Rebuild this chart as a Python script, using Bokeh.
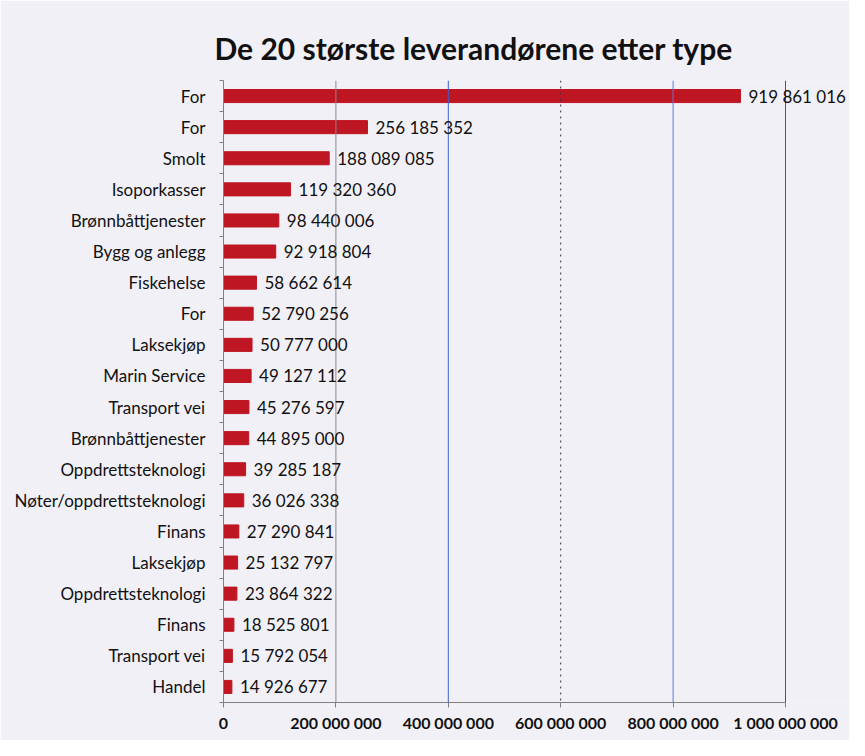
from bokeh.plotting import figure
from bokeh.models import ColumnDataSource, Range1d, FixedTicker, Span, LabelSet
from bokeh.core.properties import value
from bokeh.embed import file_html
from bokeh.resources import INLINE

categories = ["For", "For", "Smolt", "Isoporkasser", "Brønnbåttjenester", "Bygg og anlegg",
              "Fiskehelse", "For", "Laksekjøp", "Marin Service", "Transport vei",
              "Brønnbåttjenester", "Oppdrettsteknologi", "Nøter/oppdrettsteknologi", "Finans",
              "Laksekjøp", "Oppdrettsteknologi", "Finans", "Transport vei", "Handel"]
values = [919861016, 256185352, 188089085, 119320360, 98440006, 92918804,
          58662614, 52790256, 50777000, 49127112, 45276597,
          44895000, 39285187, 36026338, 27290841,
          25132797, 23864322, 18525801, 15792054, 14926677]
x_ticks = [0, 200000000, 400000000, 600000000, 800000000, 1000000000]
x_tick_labels = ["0", "200 000 000", "400 000 000", "600 000 000", "800 000 000", "1 000 000 000"]

def fmt(v):
    return f"{v:,}".replace(",", " ")

pos = list(range(len(categories)))
src = ColumnDataSource(dict(y=pos, v=values, lbl=[fmt(v) for v in values]))

AXIS_MAX = x_ticks[-1]
FRAME_LEFT = 223
FIG_W = 849
FIG_H = 740
PX_PER_UNIT = 562 / AXIS_MAX
x_end = (FIG_W - FRAME_LEFT) / PX_PER_UNIT

BG = "#f2f0f7"
p = figure(width=FIG_W, height=FIG_H, output_backend="svg", toolbar_location=None,
           x_range=Range1d(0, x_end), y_range=Range1d(len(categories) - 0.5, -0.5),
           min_border_left=FRAME_LEFT, min_border_right=0, min_border_top=80, min_border_bottom=38,
           background_fill_color=BG, border_fill_color=BG, outline_line_color=None,
           title="De 20 største leverandørene etter type")

p.title.text_font = "Lato"
p.title.text_font_style = "bold"
p.title.text_font_size = "30px"
p.title.align = "left"
p.title.offset = -9
p.title.standoff = 29
p.title.text_color = "#111111"

p.xgrid.visible = False
p.ygrid.visible = False

grid_colors = ["#8a8a8a", "#3f5fd0", "#333344", "#5a7ae0", "#555555"]
grid_dash = ["solid", "solid", "dotted", "solid", "solid"]
for t, c, d in zip(x_ticks[1:], grid_colors, grid_dash):
    p.add_layout(Span(location=t, dimension="height", line_color=c, line_width=1, line_dash=d))

p.hbar(y="y", left=0, right="v", height=0.42, source=src, fill_color="#be1622",
       line_color="#be1622")

labels = LabelSet(x="v", y="y", text="lbl", source=src, x_offset=8,
                  text_baseline="middle", text_font=value("Lato"), text_font_size="17px",
                  text_color="#111111")
p.add_layout(labels)

# x axis
p.xaxis.bounds = (0, AXIS_MAX)
p.xaxis.ticker = FixedTicker(ticks=x_ticks)
p.xaxis.major_label_overrides = {t: l for t, l in zip(x_ticks, x_tick_labels)}
p.xaxis.axis_line_color = "#808080"
p.xaxis.major_tick_line_color = "#808080"
p.xaxis.major_tick_out = 5
p.xaxis.major_tick_in = 0
p.xaxis.minor_tick_line_color = None
p.xaxis.major_label_standoff = 5
p.xaxis.major_label_text_font = "Lato"
p.xaxis.major_label_text_font_style = "bold"
p.xaxis.major_label_text_font_size = "16px"
p.xaxis.major_label_text_color = "#111111"

# y axis
p.yaxis.ticker = FixedTicker(ticks=pos, minor_ticks=[i - 0.5 for i in range(len(categories) + 1)])
p.yaxis.major_label_overrides = {i: c for i, c in zip(pos, categories)}
p.yaxis.axis_line_color = "#808080"
p.yaxis.major_tick_line_color = None
p.yaxis.major_tick_out = 0
p.yaxis.major_tick_in = 0
p.yaxis.minor_tick_line_color = "#808080"
p.yaxis.minor_tick_out = 4
p.yaxis.minor_tick_in = 0
p.yaxis.major_label_standoff = 14
p.yaxis.major_label_text_font = "Lato"
p.yaxis.major_label_text_font_size = "17px"
p.yaxis.major_label_text_color = "#111111"

open("out.html", "w").write(file_html(p, INLINE))
